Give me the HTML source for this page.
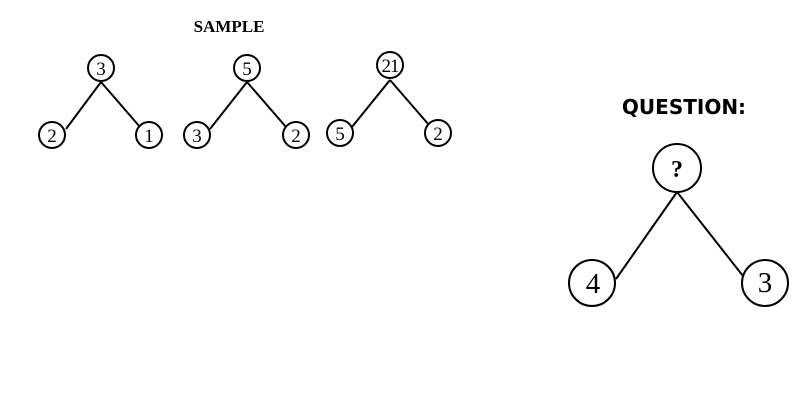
<!DOCTYPE html><html><head><style>body{margin:0;background:#fff}</style></head><body>
<svg width="800" height="400" xmlns="http://www.w3.org/2000/svg">
<text x="229" y="32" font-family="Liberation Serif" font-weight="bold" font-size="17" text-anchor="middle">SAMPLE</text>
<g stroke="#000" stroke-width="2" fill="none">
<circle cx="101" cy="68" r="13"/><circle cx="52" cy="135" r="13"/><circle cx="149" cy="135" r="13"/>
<line x1="101" y1="82" x2="66" y2="129"/><line x1="101" y1="82" x2="140" y2="127"/>
<circle cx="247" cy="68" r="13"/><circle cx="197" cy="135" r="13"/><circle cx="296" cy="135" r="13"/>
<line x1="247" y1="82" x2="210" y2="129"/><line x1="247" y1="82" x2="286" y2="127"/>
<circle cx="390" cy="65" r="13"/><circle cx="340" cy="133" r="13"/><circle cx="438" cy="133" r="13"/>
<line x1="390" y1="80" x2="352" y2="127"/><line x1="390" y1="80" x2="429" y2="125"/>
<circle cx="677" cy="168" r="24"/><circle cx="592" cy="283" r="23"/><circle cx="765" cy="283" r="23"/>
<line x1="677" y1="192" x2="616" y2="279"/><line x1="677" y1="192" x2="743" y2="276"/>
</g>
<g font-family="Liberation Serif" font-size="19" text-anchor="middle">
<text x="101" y="75">3</text><text x="52" y="142">2</text><text x="149" y="142">1</text>
<text x="247" y="75">5</text><text x="197" y="142">3</text><text x="296" y="142">2</text>
<text x="390" y="72" letter-spacing="-1">21</text><text x="340" y="140">5</text><text x="438" y="140">2</text>
<text x="677" y="177" font-size="24" font-weight="bold">?</text>
<text x="593" y="293" font-size="29">4</text><text x="765" y="292" font-size="29">3</text>
</g>
<text x="684" y="114" font-family="DejaVu Sans" font-weight="bold" font-size="20" text-anchor="middle">QUESTION:</text>
</svg>
</body></html>
